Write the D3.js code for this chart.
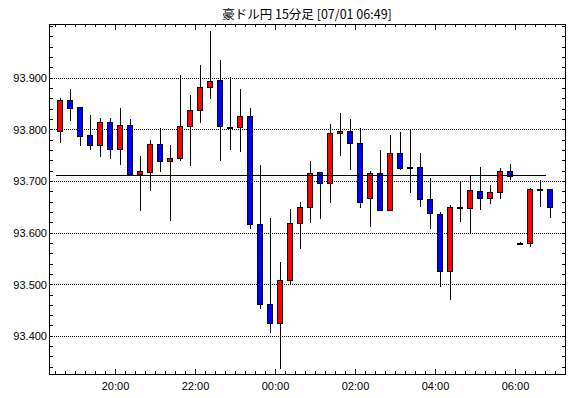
<!DOCTYPE html>
<html>
<head>
<meta charset="utf-8">
<script src="https://cdn.jsdelivr.net/npm/d3@7"></script>
<style>
  body { margin: 0; background: #fff; }
  text { font-family: "Liberation Sans", Arial, sans-serif; font-size: 11px; fill: #000; }
</style>
</head>
<body>
<svg id="chart" width="570" height="398"></svg>
<script>
// 15-minute candles, 06/30 18:30 .. 07/01 06:45
const times = ['18:30','18:45','19:00','19:15','19:30','19:45','20:00','20:15','20:30','20:45',
  '21:00','21:15','21:30','21:45','22:00','22:15','22:30','22:45','23:00','23:15','23:30','23:45',
  '00:00','00:15','00:30','00:45','01:00','01:15','01:30','01:45','02:00','02:15','02:30','02:45',
  '03:00','03:15','03:30','03:45','04:00','04:15','04:30','04:45','05:00','05:15','05:30','05:45',
  '06:00','06:15','06:30','06:45'];
const opens = [93.797,93.857,93.844,93.790,93.770,93.815,93.762,93.809,93.715,93.719,
  93.772,93.739,93.745,93.807,93.838,93.883,93.896,93.806,93.806,93.826,93.617,93.463,
  93.426,93.509,93.619,93.650,93.718,93.697,93.794,93.797,93.774,93.668,93.716,93.645,
  93.755,93.728,93.728,93.666,93.637,93.526,93.649,93.648,93.682,93.668,93.679,93.720,
  93.580,93.580,93.685,93.685];
const highs = [93.862,93.879,93.844,93.829,93.823,93.823,93.843,93.821,93.750,93.780,
  93.804,93.771,93.906,93.868,93.926,93.992,93.935,93.903,93.879,93.843,93.732,93.630,
  93.543,93.647,93.661,93.740,93.718,93.812,93.833,93.821,93.804,93.721,93.761,93.790,
  93.796,93.800,93.755,93.707,93.641,93.654,93.701,93.713,93.728,93.693,93.726,93.734,
  93.582,93.688,93.703,93.685];
const lows = [93.777,93.820,93.770,93.762,93.750,93.746,93.734,93.715,93.644,93.684,
  93.721,93.626,93.742,93.732,93.816,93.862,93.742,93.762,93.759,93.610,93.455,93.408,
  93.339,93.503,93.572,93.622,93.630,93.661,93.752,93.724,93.650,93.613,93.645,93.645,
  93.724,93.679,93.652,93.609,93.497,93.473,93.624,93.600,93.646,93.659,93.667,93.705,
  93.578,93.574,93.653,93.632];
const closes = [93.857,93.843,93.789,93.770,93.815,93.762,93.809,93.715,93.720,93.772,
  93.739,93.745,93.807,93.839,93.883,93.894,93.807,93.806,93.826,93.617,93.463,93.426,
  93.509,93.619,93.650,93.716,93.697,93.794,93.797,93.774,93.661,93.716,93.645,93.755,
  93.727,93.728,93.666,93.639,93.526,93.650,93.650,93.683,93.668,93.679,93.720,93.711,
  93.580,93.686,93.685,93.650];

const priceTicks = [93.4, 93.5, 93.6, 93.7, 93.8, 93.9];
const timeLabels = ['20:00','22:00','00:00','02:00','04:00','06:00'];
const refPrice = 93.711;
const title = '豪ドル円 15分足 [07/01 06:49]';

// "HH:MM" -> Date; evening belongs to 06/30, morning to 07/01
function toDate(s) {
  const parts = s.split(':').map(Number);
  const h = parts[0];
  const day = h >= 12 ? 30 : 1;
  const mon = h >= 12 ? 5 : 6;
  return new Date(2020, mon, day, h, parts[1], parts[2] || 0);
}

const data = times.map((t, i) => ({
  t: toDate(t), open: opens[i], high: highs[i], low: lows[i], close: closes[i]
}));

const svg = d3.select('#chart');
const margin = {top: 24, right: 5, bottom: 24, left: 49};
const W = 570, H = 398;
const x0 = margin.left, x1 = W - margin.right, y0 = margin.top, y1 = H - margin.bottom;

const x = d3.scaleTime()
  .domain([toDate('18:20:15'), toDate('07:14:15')])
  .range([x0, x1]);
const y = d3.scaleLinear()
  .domain([93.327, 94.005])
  .range([y1, y0]);

const px = v => Math.floor(v) + 0.5;
const half = 7.5 * 60 * 1000;

// title
svg.append('text')
  .attr('x', (x0 + x1) / 2)
  .attr('y', 19)
  .attr('text-anchor', 'middle')
  .style('font-family', '"Noto Sans CJK JP", sans-serif')
  .style('font-size', '12.5px')
  .text(title);

const g = svg.append('g').attr('shape-rendering', 'crispEdges');

// dotted grid
g.selectAll('.grid')
  .data(priceTicks)
  .enter().append('line')
  .attr('class', 'grid')
  .attr('x1', x0 + 1).attr('x2', x1)
  .attr('y1', d => px(y(d))).attr('y2', d => px(y(d)))
  .attr('stroke', '#000')
  .attr('stroke-dasharray', '1,1');

// minor price ticks every 0.02
const minorY = d3.range(93.34, 94.001, 0.02);
g.selectAll('.ytl')
  .data(minorY)
  .enter().append('line')
  .attr('x1', x0).attr('x2', x0 + 4)
  .attr('y1', d => px(y(d))).attr('y2', d => px(y(d)))
  .attr('stroke', '#000');
g.selectAll('.ytr')
  .data(minorY)
  .enter().append('line')
  .attr('x1', x1 - 3).attr('x2', x1)
  .attr('y1', d => px(y(d))).attr('y2', d => px(y(d)))
  .attr('stroke', '#000');

// time ticks every 15 minutes, longer every 2 hours
const tticks = d3.timeMinute.every(15).range(x.domain()[0], x.domain()[1]);
const isMajor = d => d.getMinutes() === 0 && d.getHours() % 2 === 0;
g.selectAll('.xtb')
  .data(tticks)
  .enter().append('line')
  .attr('x1', d => px(x(d))).attr('x2', d => px(x(d)))
  .attr('y1', y1).attr('y2', d => y1 - (isMajor(d) ? 5 : 3))
  .attr('stroke', '#000');
g.selectAll('.xtt')
  .data(tticks)
  .enter().append('line')
  .attr('x1', d => px(x(d))).attr('x2', d => px(x(d)))
  .attr('y1', y0).attr('y2', d => y0 + (isMajor(d) ? 6 : 3))
  .attr('stroke', '#000');

// labels
svg.selectAll('.ylab')
  .data(priceTicks)
  .enter().append('text')
  .attr('x', x0 - 2)
  .attr('y', d => y(d))
  .attr('dy', '0.36em')
  .attr('text-anchor', 'end')
  .text(d => d.toFixed(3));

svg.selectAll('.xlab')
  .data(timeLabels)
  .enter().append('text')
  .attr('x', d => px(x(toDate(d))))
  .attr('y', 390)
  .attr('text-anchor', 'middle')
  .text(d => d);

// candles
const c = g.selectAll('.candle')
  .data(data)
  .enter().append('g')
  .attr('class', 'candle');

c.append('line')
  .attr('x1', d => px(x(new Date(+d.t + half))))
  .attr('x2', d => px(x(new Date(+d.t + half))))
  .attr('y1', d => Math.round(y(d.high)))
  .attr('y2', d => Math.round(y(d.low)) + 1)
  .attr('stroke', '#000');

c.append('rect')
  .attr('x', d => Math.floor(x(new Date(+d.t + half))) - 3 + 0.5)
  .attr('width', 5)
  .attr('y', d => Math.round(y(Math.max(d.open, d.close))) + 0.5)
  .attr('height', d => Math.max(1, Math.round(y(Math.min(d.open, d.close))) - Math.round(y(Math.max(d.open, d.close)))))
  .attr('fill', d => d.close >= d.open ? '#ff0000' : '#0000ff')
  .attr('stroke', '#000');

// reference price line
g.append('line')
  .attr('x1', x(data[0].t)).attr('x2', x(data[data.length - 1].t))
  .attr('y1', px(y(refPrice))).attr('y2', px(y(refPrice)))
  .attr('stroke', '#000');

// frame
g.append('rect')
  .attr('x', x0 + 0.5).attr('y', y0 + 0.5)
  .attr('width', x1 - x0).attr('height', y1 - y0)
  .attr('fill', 'none')
  .attr('stroke', '#000');
</script>
</body>
</html>
